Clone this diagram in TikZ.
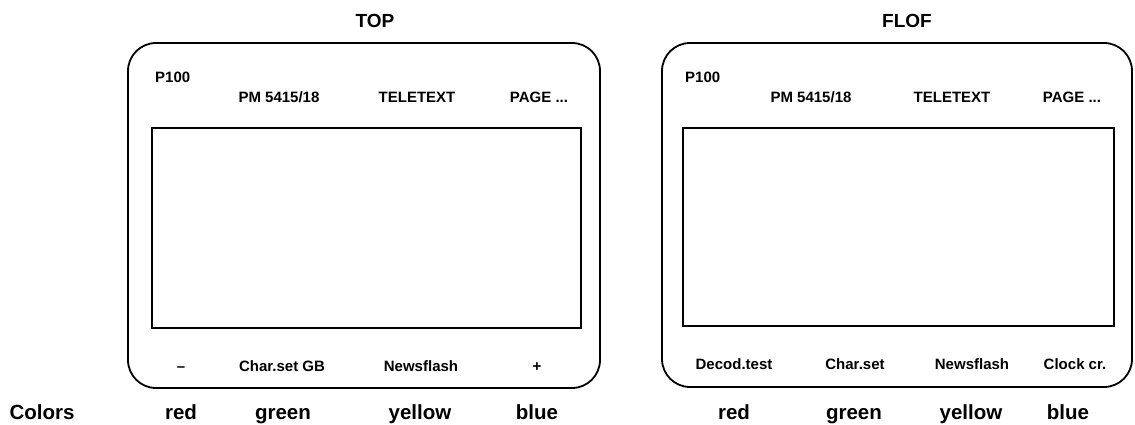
\documentclass[tikz,border=0pt]{standalone}
\usepackage{fontspec}
\setmainfont{Liberation Sans}
\begin{document}
\begin{tikzpicture}[x=1pt,y=-1pt,
  title/.style={font=\fontsize{19}{19}\selectfont\bfseries, inner sep=0pt, anchor=base},
  lbl/.style={font=\fontsize{15}{15}\selectfont\bfseries, inner sep=0pt, anchor=base},
  colr/.style={font=\fontsize{20.5}{20.5}\selectfont\bfseries, inner sep=0pt, anchor=base},
  tvbox/.style={draw, line width=1.8pt, rounded corners=28pt},
  screen/.style={draw, line width=1.3pt}]
\useasboundingbox (0,0) rectangle (1135,425);
% TOP panel
\node[title] (toptitle) at (375,28) {TOP};
\draw[tvbox] (128,43) rectangle (600,388);
\draw[screen] (152,128) rectangle (581,328);
\node[lbl, anchor=base west] (tp100) at (155,83) {P100};
\node[lbl] (tpm) at (279,103) {PM 5415/18};
\node[lbl] (ttel) at (417,103) {TELETEXT};
\node[lbl] (tpage) at (539,103) {PAGE ...};
\node[lbl] (tminus) at (181,371) {--};
\node[lbl] (tchar) at (282,371) {Char.set GB};
\node[lbl] (tnews) at (421,371) {Newsflash};
\node[lbl] (tplus) at (537,371) {+};
% FLOF panel
\node[title] (floftitle) at (907,28) {FLOF};
\draw[tvbox] (662,43) rectangle (1132,387);
\draw[screen] (683,128) rectangle (1114,326);
\node[lbl, anchor=base west] (fp100) at (685,83) {P100};
\node[lbl] (fpm) at (811,103) {PM 5415/18};
\node[lbl] (ftel) at (952,103) {TELETEXT};
\node[lbl] (fpage) at (1072,103) {PAGE ...};
\node[lbl] (fdec) at (734,369) {Decod.test};
\node[lbl] (fchar) at (855,369) {Char.set};
\node[lbl] (fnews) at (972,369) {Newsflash};
\node[lbl] (fclock) at (1075,369) {Clock cr.};
% Colors row
\node[colr] (colors) at (42,419) {Colors};
\node[colr] (tred) at (181,419) {red};
\node[colr] (tgreen) at (283,419) {green};
\node[colr] (tyellow) at (420,419) {yellow};
\node[colr] (tblue) at (537,419) {blue};
\node[colr] (fred) at (734,419) {red};
\node[colr] (fgreen) at (854,419) {green};
\node[colr] (fyellow) at (971,419) {yellow};
\node[colr] (fblue) at (1068,419) {blue};
\end{tikzpicture}
\end{document}
